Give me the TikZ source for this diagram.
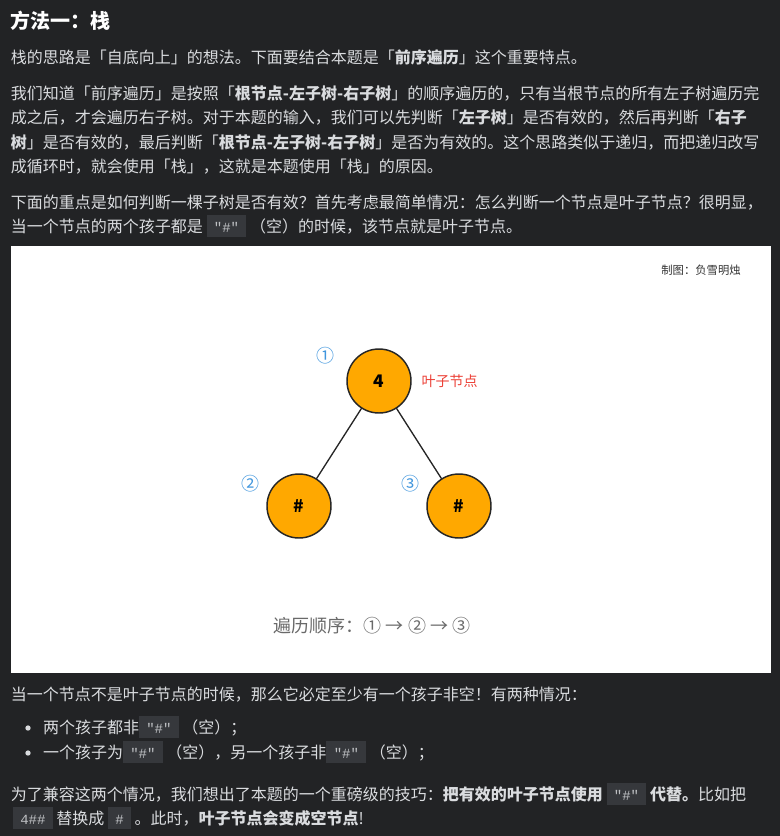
\documentclass[tikz,border=0pt]{standalone}
\usepackage{fontspec}
\setmainfont{Noto Sans CJK SC}
\setmonofont{Liberation Mono}
\XeTeXlinebreaklocale "zh"
\XeTeXlinebreakskip=0pt plus 1pt
\usetikzlibrary{positioning}

\definecolor{pagebg}{RGB}{34,35,37}
\definecolor{bodytext}{RGB}{218,220,223}
\definecolor{codebg}{RGB}{54,56,60}
\definecolor{codetext}{RGB}{190,192,195}
\definecolor{leaforange}{RGB}{255,168,0}
\definecolor{orderblue}{RGB}{64,150,222}
\definecolor{tagred}{RGB}{236,64,54}
\definecolor{captiongray}{RGB}{105,105,105}

% inline code chip
\newcommand\code[1]{{\setlength\fboxsep{0pt}\colorbox{codebg}{\hspace{5.5pt}\rule[-4pt]{0pt}{16.5pt}\textcolor{codetext}{\fontsize{10.5pt}{11pt}\ttfamily #1}\hspace{5.5pt}}}}
% last line of a justified row
\newcommand\fullrow{\noindent\parfillskip=0pt\relax}

\begin{document}
\begin{tikzpicture}[
    x=0.75pt, y=-0.75pt,
    every node/.style={inner sep=0pt, outer sep=0pt},
    heading/.style={anchor=base west, text=white, font=\fontsize{15pt}{18pt}\selectfont\bfseries},
    textline/.style={anchor=base west, text=bodytext, font=\fontsize{12pt}{15pt}\selectfont},
    fullline/.style={textline, text width=570pt, align=justify},
    bulletdot/.style={circle, fill=bodytext, minimum size=4pt},
    treenode/.style={circle, draw=black!85, line width=1.1pt, fill=leaforange, minimum size=48pt, font=\fontsize{13pt}{15pt}\selectfont\bfseries},
    edge/.style={draw=black!85, line width=1pt},
    order/.style={text=orderblue, font=\fontsize{13.5pt}{15pt}\selectfont},
    tagtext/.style={text=tagred, font=\fontsize{10.5pt}{12pt}\selectfont},
    caption/.style={text=captiongray, font=\fontsize{13.5pt}{16pt}\selectfont},
    credit/.style={text=black!80, font=\fontsize{8.5pt}{10pt}\selectfont}
]

    % Page
    \fill[pagebg] (0,0) rectangle (780,836);

    % Heading and first paragraphs
    \node[heading] (title) at (11,28) {方法一：栈};
    \node[textline] (p1) at (11,63) {栈的思路是「自底向上」的想法。下面要结合本题是「\textbf{前序遍历}」这个重要特点。};
    \node[fullline] (p2a) at (11,99) {\fullrow 我们知道「前序遍历」是按照「\textbf{根节点-左子树-右子树}」的顺序遍历的，只有当根节点的所有左子树遍历完};
    \node[fullline] (p2b) at (11,123) {\fullrow 成之后，才会遍历右子树。对于本题的输入，我们可以先判断「\textbf{左子树}」是否有效的，然后再判断「\textbf{右子}};
    \node[fullline] (p2c) at (11,148) {\fullrow\textbf{树}」是否有效的，最后判断「\textbf{根节点-左子树-右子树}」是否为有效的。这个思路类似于递归，而把递归改写};
    \node[textline] (p2d) at (11,172) {成循环时，就会使用「栈」，这就是本题使用「栈」的原因。};
    \node[fullline] (p3a) at (11,208) {\fullrow 下面的重点是如何判断一棵子树是否有效？首先考虑最简单情况：怎么判断一个节点是叶子节点？很明显，};
    \node[textline] (p3b) at (11,232) {当一个节点的两个孩子都是 \code{"\#"} （空）的时候，该节点就是叶子节点。};

    % Picture panel
    \fill[white] (11,246) rectangle (771,673);
    \node[credit] (credit) at (701,270) {制图：负雪明烛};

    % Tree
    \node[treenode] (root) at (379,381) {4};
    \node[treenode] (left) at (299,506) {\#};
    \node[treenode] (right) at (459,506) {\#};
    \draw[edge] (root) -- (left);
    \draw[edge] (root) -- (right);

    \node[tagtext, right=8pt of root] (tag) {叶子节点};
    \node[order] (n1) at (325,356) {①};
    \node[order] (n2) at (250,484) {②};
    \node[order] (n3) at (410,484) {③};

    \node[caption] (walk) at (372,626) {遍历顺序：① → ② → ③};

    % Text below the panel
    \node[textline] (p4) at (11,700) {当一个节点不是叶子节点的时候，那么它必定至少有一个孩子非空！有两种情况：};
    \node[bulletdot] (d1) at (28,728) {};
    \node[textline] (b1) at (43,733) {两个孩子都非\code{"\#"} （空）；};
    \node[bulletdot] (d2) at (28,753) {};
    \node[textline] (b2) at (43,758) {一个孩子为\code{"\#"} （空），另一个孩子非\code{"\#"} （空）；};

    \node[fullline] (p5a) at (11,800) {\fullrow 为了兼容这两个情况，我们想出了本题的一个重磅级的技巧：\textbf{把有效的叶子节点使用} \code{"\#"} \textbf{代替。}比如把};
    \node[textline] (p5b) at (13,824) {\code{4\#\#} 替换成 \code{\#} 。此时，\textbf{叶子节点会变成空节点}!};

\end{tikzpicture}
\end{document}
